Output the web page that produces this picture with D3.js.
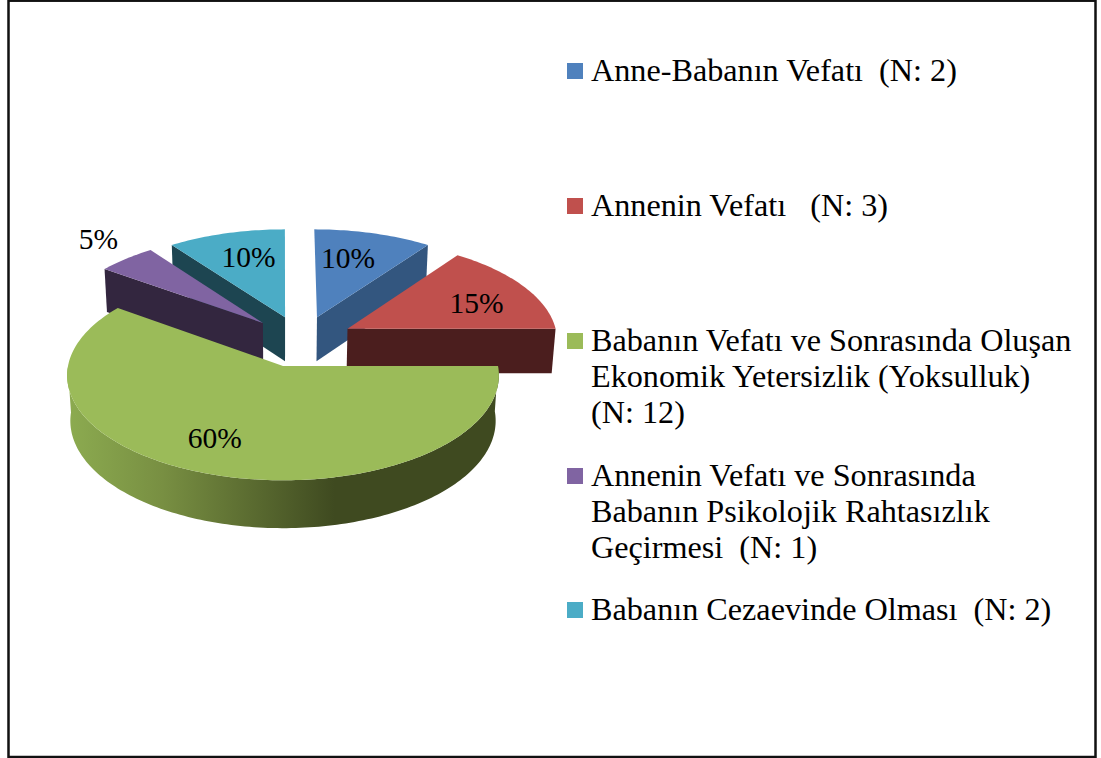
<!DOCTYPE html>
<html lang="tr">
<head>
<meta charset="UTF-8">
<title>Pie</title>
<style>
    html, body { margin: 0; padding: 0; background: #fff; overflow: hidden; }
    svg { display: block; }
    text { font-family: "Liberation Serif", serif; fill: #000; white-space: pre; }
    .legend-label { font-size: 32.2px; }
    .pct { font-size: 29.5px; }
</style>
</head>
<body>
<div id="chart"></div>
<script src="https://cdn.jsdelivr.net/npm/d3@7"></script>
<script>
// data
var categories = [
    ["Anne-Babanın Vefatı  (N: 2)"],
    ["Annenin Vefatı   (N: 3)"],
    ["Babanın Vefatı ve Sonrasında Oluşan", "Ekonomik Yetersizlik (Yoksulluk)", "(N: 12)"],
    ["Annenin Vefatı ve Sonrasında", "Babanın Psikolojik Rahtasızlık", "Geçirmesi  (N: 1)"],
    ["Babanın Cezaevinde Olması  (N: 2)"]
];
var values = [2, 3, 12, 1, 2];

// colours
var topColors = ["#4f81bd", "#c0504d", "#9bbb59", "#8064a2", "#4bacc6"];
var sideColors = ["#33567f", "#4b1e1e", "#3f4a20", "#33263f", "#1d4551"];

// layout of the exploded slices, in pie radii (right, away from viewer)
var explodeU = [0.165, 0.31, 0, -0.097, 0.01];
var explodeV = [0.49, 0.37, 0, 0.43, 0.49];
var labelRadius = [0.69, 0.70, 0.707, 1.285, 0.70];
var labelTurn = [-3.8, 3.6, 7, 2.5, 2.5]; // degrees off the slice middle
var drawOrder = [4, 0, 1, 3, 2];
var legendBaseline = [81, 216, 351, 486, 620];
var legendLineStep = 36;

var width = 1101, height = 758;
var cx = 283, cy = 366, rx = 215, ry = 104, depth = 46;
var persp = 0.09, sink = 0.015;

var svg = d3.select("#chart").append("svg")
    .attr("width", width)
    .attr("height", height);

// frame
svg.append("rect")
    .attr("x", 8.5).attr("y", 0.7)
    .attr("width", 1087).attr("height", 756.3)
    .attr("fill", "#fff")
    .attr("stroke", "#111")
    .attr("stroke-width", 2.5);

var topColor = d3.scaleOrdinal().domain(d3.range(values.length)).range(topColors);
var sideColor = d3.scaleOrdinal().domain(d3.range(values.length)).range(sideColors);

// u, v in pie radii, z 0 on the top face and 1 on the bottom face
function project(p, z) {
    var s = 1 / (1 + persp * p.v + sink * z);
    return [cx + rx * p.u * s, cy - ry * p.v * s + depth * z * s];
}

var pie = d3.pie().sort(null).startAngle(0).endAngle(2 * Math.PI);
var arcs = pie(values);
var line = d3.line();

function pointAt(i, a, r) {
    return { u: explodeU[i] + r * Math.sin(a), v: explodeV[i] + r * Math.cos(a) };
}

function rim(i, d) {
    var n = Math.ceil((d.endAngle - d.startAngle) / 0.02);
    return d3.range(n + 1).map(function(k) {
        return pointAt(i, d.startAngle + (d.endAngle - d.startAngle) * k / n, 1);
    });
}

function heading(p, q) { return q.u < p.u - 1e-9; } // runs to the left = faces the viewer

// gradient on the round wall of the big slice
var grad = svg.append("defs").append("linearGradient")
    .attr("id", "wall")
    .attr("gradientUnits", "userSpaceOnUse")
    .attr("x1", project({u: -1, v: 0}, 0)[0])
    .attr("x2", project({u: 1, v: 0}, 0)[0])
    .attr("y1", 0).attr("y2", 0);
grad.append("stop").attr("offset", "0").attr("stop-color", "#8cab50");
grad.append("stop").attr("offset", "0.22").attr("stop-color", "#788f42");
grad.append("stop").attr("offset", "0.62").attr("stop-color", "#3f4a20");
grad.append("stop").attr("offset", "1").attr("stop-color", "#3f4a20");

var pieG = svg.append("g");

drawOrder.forEach(function(i) {
    var d = arcs[i];
    var apex = pointAt(i, 0, 0);
    var pts = rim(i, d);
    var g = pieG.append("g");

    // rounded wall
    var front = pts.filter(function(p, k) {
        return (k < pts.length - 1 && heading(p, pts[k + 1])) || (k > 0 && heading(pts[k - 1], p));
    });
    if (front.length > 1) {
        var wall = front.map(function(p) { return project(p, 0); })
            .concat(front.slice().reverse().map(function(p) { return project(p, 1); }));
        g.append("path")
            .attr("d", line(wall) + "Z")
            .attr("fill", i === 2 ? "url(#wall)" : sideColor(i));
    }

    // flat cut faces
    [[apex, pts[0]], [pts[pts.length - 1], apex]].forEach(function(e) {
        if (!heading(e[0], e[1])) return;
        g.append("path")
            .attr("d", line([project(e[0], 0), project(e[1], 0), project(e[1], 1), project(e[0], 1)]) + "Z")
            .attr("fill", sideColor(i));
    });

    // top face
    var face = [apex].concat(pts).map(function(p) { return project(p, 0); });
    g.append("path")
        .attr("d", line(face) + "Z")
        .attr("fill", topColor(i));
});

// percentage labels
var total = d3.sum(values);
function labelPos(d, i) {
    var a = (d.startAngle + d.endAngle) / 2 + labelTurn[i] * Math.PI / 180;
    return project(pointAt(i, a, labelRadius[i]), 0);
}
svg.append("g").selectAll("text")
    .data(arcs)
    .enter()
    .append("text")
    .attr("class", "pct")
    .attr("text-anchor", "middle")
    .attr("dy", "0.37em")
    .attr("x", function(d, i) { return labelPos(d, i)[0]; })
    .attr("y", function(d, i) { return labelPos(d, i)[1]; })
    .text(function(d) { return d3.format(".0%")(d.value / total); });

// legend
var legend = svg.append("g");
categories.forEach(function(lines, i) {
    legend.append("rect")
        .attr("x", 567)
        .attr("y", legendBaseline[i] - 18)
        .attr("width", 16)
        .attr("height", 16)
        .attr("fill", topColor(i));
    lines.forEach(function(t, k) {
        legend.append("text")
            .attr("class", "legend-label")
            .attr("x", 591)
            .attr("y", legendBaseline[i] + k * legendLineStep)
            .text(t);
    });
});
</script>
</body>
</html>
